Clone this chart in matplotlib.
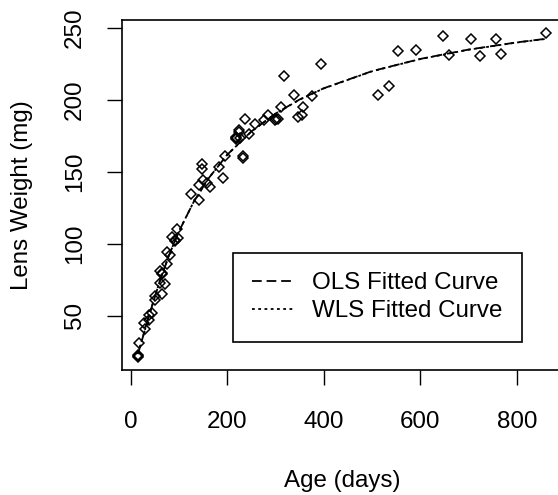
import matplotlib
matplotlib.use("Agg")
import matplotlib.pyplot as plt

# ---- data ----
age = [15, 15, 15, 18, 28, 29, 37, 37, 44, 50, 50, 60, 61, 64, 65, 65, 72, 75, 75,
       82, 85, 91, 91, 97, 98, 125, 142, 142, 147, 147, 150, 159, 165, 183, 192,
       195, 218, 218, 219, 224, 225, 227, 232, 232, 237, 246, 258, 276, 285, 300,
       301, 305, 312, 317, 338, 347, 354, 357, 375, 394, 513, 535, 554, 591, 648,
       660, 705, 723, 756, 768, 860]
weight = [21.66, 22.75, 22.3, 31.25, 44.79, 40.55, 50.25, 46.88, 52.03, 63.47,
          61.13, 81.0, 73.09, 79.09, 79.51, 65.31, 71.9, 86.1, 94.6, 92.5, 105.0,
          101.7, 102.9, 110.0, 104.3, 134.9, 130.68, 140.58, 155.3, 152.2, 144.5,
          142.15, 139.81, 153.22, 145.72, 161.1, 174.18, 173.03, 173.54, 178.86,
          177.68, 173.73, 159.98, 161.29, 187.07, 176.13, 183.4, 186.26, 189.66,
          186.09, 186.7, 186.8, 195.1, 216.41, 203.23, 188.38, 189.7, 195.31,
          202.63, 224.82, 203.3, 209.7, 233.9, 234.7, 244.3, 231.0, 242.4, 230.77,
          242.57, 232.12, 246.7]

curve_age = [15, 25, 40, 60, 80, 100, 130, 160, 200, 250, 300, 350, 400, 500,
             600, 700, 800, 860]
ols_fit = [23.4, 34.9, 52.2, 73.7, 92.5, 108.6, 128.8, 144.9, 161.9, 178.1,
           190.5, 200.3, 208.1, 220.0, 228.5, 235.0, 240.0, 242.5]
wls_fit = [23.5, 35.0, 52.3, 73.8, 92.6, 108.7, 128.8, 144.9, 161.9, 178.0,
           190.4, 200.2, 208.0, 219.9, 228.4, 234.9, 239.9, 242.4]

xticks = [0, 200, 400, 600, 800]
yticks = [50, 100, 150, 200, 250]

# ---- style ----
plt.rcParams['font.family'] = ['Liberation Sans', 'DejaVu Sans']
plt.rcParams['lines.scale_dashes'] = False
FS = 17.4

fig = plt.figure(figsize=(5.58, 4.95), dpi=100)
ax = fig.add_axes([121.6 / 558, 1 - 369.5 / 495, (562 - 121.6) / 558, (369.5 - 19.8) / 495])

ax.plot(age, weight, linestyle='none', marker='D', ms=5.0, mfc='none', mec='black', mew=1.1)
ax.plot(curve_age, ols_fit, color='black', lw=1.3, dashes=(7, 3.5), label='OLS Fitted Curve')
ax.plot(curve_age, wls_fit, color='black', lw=1.3, dashes=(2, 2.5), label='WLS Fitted Curve')

xr = max(age) - min(age)
yr = max(weight) - min(weight)
ax.set_xlim(min(age) - 0.04 * xr, max(age) + 0.04 * xr)
ax.set_ylim(min(weight) - 0.04 * yr, max(weight) + 0.04 * yr)

ax.set_xticks(xticks)
ax.set_yticks(yticks)
ax.tick_params(axis='both', direction='out', length=10.8, width=1.0, labelsize=FS, color='black')
ax.tick_params(axis='x', pad=19)
ax.tick_params(axis='y', pad=15, labelrotation=90)
for lbl in ax.get_yticklabels():
    lbl.set_va('center')

for s in ax.spines.values():
    s.set_linewidth(1.2)

ax.set_xlabel('Age (days)', fontsize=FS, labelpad=27)
ax.set_ylabel('Lens Weight (mg)', fontsize=FS, labelpad=22)

leg = ax.legend(loc='upper left', bbox_to_anchor=((233 - 121.6) / (562 - 121.6), 1 - (253 - 19.8) / (369.5 - 19.8)),
                borderaxespad=0, fontsize=FS, frameon=True, fancybox=False, shadow=False,
                edgecolor='black', framealpha=1, handlelength=1.67, handletextpad=0.8,
                borderpad=0.8, labelspacing=0.25)
leg.get_frame().set_linewidth(1.2)

fig.savefig('out.png', dpi=100)
